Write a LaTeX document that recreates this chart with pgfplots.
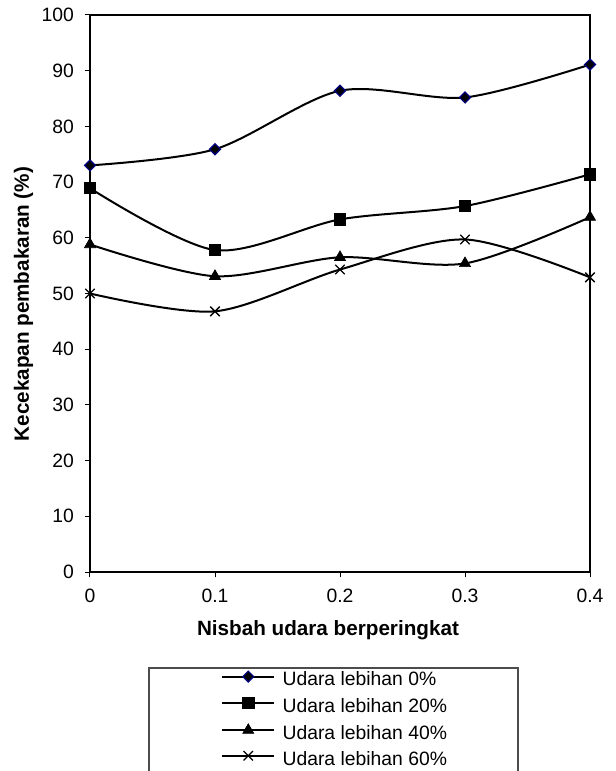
\documentclass[border=0pt]{standalone}
\usepackage{fontspec}
\setmainfont{Liberation Sans}
\usepackage{pgfplots}
\pgfplotsset{compat=1.18}
\definecolor{navy}{HTML}{000080}
\begin{document}
\begin{tikzpicture}
\begin{axis}[
  at={(0,0)}, anchor=south west,
  width=375pt, height=417.75pt, scale only axis,
  xmin=0, xmax=0.4, ymin=0, ymax=100,
  xtick={0,0.1,0.2,0.3,0.4},
  xticklabels={0,0.1,0.2,0.3,0.4},
  ytick={0,10,...,100},
  /pgf/number format/assume math mode=true,
  tick align=outside, major tick length=4pt,
  tick style={black, line width=0.75pt},
  axis line style={line width=1.5pt},
  xtick pos=bottom, ytick pos=left,
  ticklabel style={font=\fontsize{14.5}{16}\selectfont},
  yticklabel style={xshift=-4.5pt},
  xticklabel style={yshift=-5pt},
  xlabel={Nisbah udara berperingkat},
  ylabel={Kecekapan pembakaran (\%)},
  label style={font=\fontsize{15.5}{18}\selectfont\bfseries},
  xlabel style={at={(axis description cs:0.476,-0.1041)}, anchor=center},
  ylabel style={at={(axis description cs:-0.133,0.481)}, anchor=center},
  legend style={draw=none, fill=none, name=leg,
    at={(axis description cs:0.262,-0.1775)}, anchor=north west,
    inner sep=0pt, row sep=5.6pt,
    nodes={inner sep=0pt, text height=10pt, text depth=3pt, font=\fontsize{14.5}{16}\selectfont}},
  legend cell align=left,
  legend image code/.code={
    \draw[line width=1.5pt, mark repeat=2,mark phase=2] plot coordinates {(0pt,3.5pt)(19.5pt,3.5pt)(39pt,3.5pt)};
    \path (44.5pt,3.5pt);
  },
]
\addplot[black, line width=1.5pt, smooth, tension=0.5, mark=square*, mark size=2.9pt, mark options={solid, rotate=45, fill=black, draw=navy, line width=0.9pt}]
  coordinates {(0,73.0) (0.1,75.9) (0.2,86.4) (0.3,85.2) (0.4,91.1)};
\addlegendentry{Udara lebihan 0\%}
\addplot[black, line width=1.5pt, smooth, tension=0.5, mark=square*, mark size=4.2pt, mark options={solid, fill=black, line width=0.5pt}]
  coordinates {(0,68.9) (0.1,57.8) (0.2,63.3) (0.3,65.7) (0.4,71.4)};
\addlegendentry{Udara lebihan 20\%}
\addplot[black, line width=1.5pt, smooth, tension=0.5, mark=triangle*, mark size=4.8pt, mark options={solid, fill=black, line width=0.5pt}]
  coordinates {(0,58.8) (0.1,53.1) (0.2,56.5) (0.3,55.4) (0.4,63.7)};
\addlegendentry{Udara lebihan 40\%}
\addplot[black, line width=1.5pt, smooth, tension=0.5, mark=x, mark size=5pt, mark options={solid, line width=1pt}]
  coordinates {(0,50.0) (0.1,46.8) (0.2,54.3) (0.3,59.7) (0.4,52.9)};
\addlegendentry{Udara lebihan 60\%}
\end{axis}
\draw[black!70, line width=0.9pt] (44.25pt,-72pt) rectangle (321pt,-170pt);
\pgfresetboundingbox
\useasboundingbox (-67.5pt,-149.25pt) rectangle (393.75pt,429pt);
\end{tikzpicture}
\end{document}
